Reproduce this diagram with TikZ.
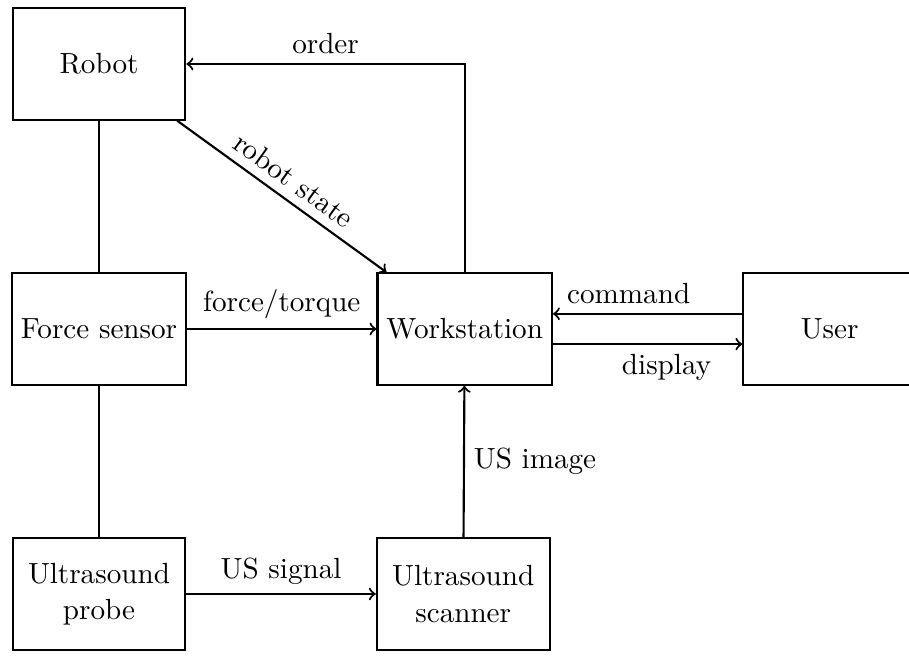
\documentclass[tikz,border=0pt]{standalone}
\usepackage{tikz}
\usetikzlibrary{positioning}

\begin{document}
\begin{tikzpicture}[
  font=\fontsize{10.95pt}{13.6pt}\selectfont,
  block/.style={draw, thick, minimum width=2.28cm, minimum height=1.47cm, align=center},
  link/.style={thick},
  node distance=2cm and 2.5cm]
\useasboundingbox (0,0) rectangle (12.0,-8.647);
% first column
\node[block] (robot) at (1.307,-0.845) {Robot};
\node[block, below=of robot] (force) {Force sensor};
\node[block, below=of force] (probe) {Ultrasound\\probe};
% second and third columns
\node[block, right=of force] (work) {Workstation};
\node[block, right=of probe] (scanner) {Ultrasound\\scanner};
\node[block, right=of work] (user) {User};
% connections
\draw[link] (robot) -- (force);
\draw[link] (force) -- (probe);
\draw[link, ->] (force) -- node[above] {force/torque} (work);
\draw[link, ->] (probe) -- node[above] {US signal} (scanner);
\draw[link, ->] (scanner) -- node[right] {US image} (work);
\draw[link, ->] (robot) -- node[above, sloped] {robot state} (work);
\draw[link, ->] (work.north) |- node[pos=0.75, above] {order} (robot.east);
\draw[link, ->] ([yshift=0.2cm]user.west) -- node[pos=0.6, above] {command} ([yshift=0.2cm]work.east);
\draw[link, ->] ([yshift=-0.2cm]work.east) -- node[pos=0.6, below] {display} ([yshift=-0.2cm]user.west);
\end{tikzpicture}
\end{document}
